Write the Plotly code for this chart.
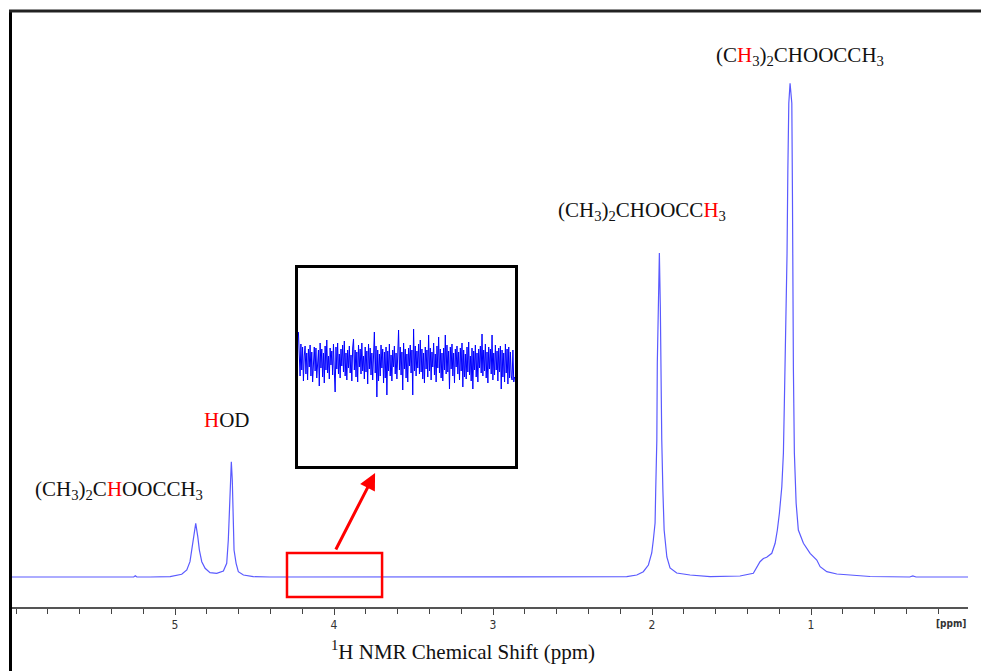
import plotly.graph_objects as go

# ---------------- data ----------------
# 1H NMR spectrum, chemical shift (ppm) and intensity (a.u.)
ppm_base_left = [6.04, 5.40, 5.26, 5.25, 5.24, 5.157]
int_base_left = [0, 0, 0, 1.2, 0, 0]

ppm_ch_hod = [5.031, 4.958, 4.926, 4.906, 4.895, 4.885, 4.870, 4.857, 4.847, 4.832,
              4.811, 4.780, 4.738, 4.696, 4.675, 4.665, 4.658, 4.652, 4.646, 4.640,
              4.635, 4.629, 4.616, 4.602, 4.570, 4.508, 4.403]
int_ch_hod = [0.3, 2.7, 7, 15.3, 27, 40.3, 53.7, 40.3, 27, 15.3,
              8.7, 4.3, 3.7, 6, 13.7, 37, 70.3, 103.7, 115.3, 97,
              54, 27, 13.7, 5.3, 2, 0.3, 0]

ppm_base_mid = [3.80, 3.20, 2.60]
int_base_mid = [0, 0, 0]

ppm_acetyl = [2.264, 2.159, 2.096, 2.055, 2.023, 2.002, 1.992, 1.981, 1.977, 1.970,
              1.967, 1.960, 1.954, 1.948, 1.945, 1.939, 1.932, 1.924, 1.907, 1.887,
              1.845, 1.761, 1.635]
int_acetyl = [0, 0.3, 2, 5.3, 12, 24, 37, 54, 87, 137,
              214, 270, 324, 270, 220, 137, 87, 47, 20, 9,
              4, 2, 0.3]

ppm_methyl = [1.447, 1.363, 1.321, 1.300, 1.279, 1.247, 1.226, 1.212, 1.199, 1.184,
              1.174, 1.168, 1.161, 1.157, 1.151, 1.146, 1.140, 1.132, 1.121, 1.117,
              1.115, 1.111, 1.105, 1.094, 1.080, 1.048, 1.006, 0.964, 0.943, 0.901,
              0.838, 0.755, 0.629]
int_methyl = [1, 3.7, 15.3, 18.5, 19.7, 23.7, 33.7, 47, 64, 90.3,
              123.7, 173.7, 223.7, 273.7, 323.7, 407, 473.7, 493.7, 473.7, 380,
              307, 207, 124, 74, 47, 33.7, 23.7, 17, 10.3, 5.3,
              3, 2, 0.5]

ppm_base_right = [0.38, 0.36, 0.34, 0.013]
int_base_right = [0, 1, 0, 0]

# zoomed baseline noise (inset), a.u.
noise = [30, 12, -14, 18, -8, 15, -19, 6, 16, -12, 9, -18, 13, -5, 17, -14, 10, -20, 8, 15,
         -9, 14, -16, 7, 12, -24, 19, -6, 13, -15, 9, -21, 16, -8, 22, -11, 6, -17, 14, -3,
         11, -13, 18, -9, -30, 15, -7, 19, -12, 8, -16, 13, -4, 17, -10, 21, -14, 9, -18, 12,
         -6, 16, -11, 7, -19, 14, 23, -8, 12, -15, 10, -20, 17, -5, 13, -12, 19, -9, 6, -17,
         15, -10, 11, -22, 18, -7, 14, -13, 9, -18, 20, 30, -11, 16, -35, 12, -19, 8, -14, 17,
         -6, 13, -21, 10, -16, 15, -33, 11, -9, 18, -14, 7, -19, 12, -5, 16, -12, 9, -17, 14,
         32, -8, 15, -13, 10, -28, 19, -7, 13, -16, 8, -20, 14, -4, 17, -11, 12, -33, 33, -9,
         16, -14, 11, -6, 18, -12, 22, -10, 13, -17, 9, -21, 15, -7, 12, -15, 27, -9, 14, -18,
         10, -5, 19, -13, 8, -20, 16, -6, 25, -11, 13, -16, 9, -19, 14, -8, 27, -12, 17, -10,
         11, -27, 15, -7, 18, -14, 9, -21, 13, -5, 16, -12, 10, -18, 14, -9, 19, -25, 12, -15,
         8, -17, 15, -10, 20, -13, 6, -19, 14, -27, 11, -8, 17, -15, 9, -20, 13, -6, 16, -11,
         28, -14, 12, -9, 18, -16, 10, -21, 15, -7, 13, -12, 27, -18, 9, -13, 17, -8, 11, -19,
         14, -10, 16, -27, 12, -15, 9, -20, 18, -11, 13, -22, 15, -16, 10, -14, -18, 12, -20, -15]

tick_vals = [5, 4, 3, 2, 1]
tick_text = ["5", "4", "3", "2", "1"]

# ---------------- figure ----------------
ppm = ppm_base_left + ppm_ch_hod + ppm_base_mid + ppm_acetyl + ppm_methyl + ppm_base_right
inten = int_base_left + int_ch_hod + int_base_mid + int_acetyl + int_methyl + int_base_right

W, H = 981, 671
L, R, T, B = 10, 13, 11, 64

fig = go.Figure()
fig.add_trace(go.Scatter(x=ppm, y=inten, mode="lines",
                         line=dict(color="#5a5aff", width=1.2),
                         hoverinfo="skip", showlegend=False))
fig.add_trace(go.Scatter(x=list(range(len(noise))), y=noise, mode="lines",
                         line=dict(color="#0000ff", width=1),
                         xaxis="x2", yaxis="y2", hoverinfo="skip", showlegend=False))

serif = "Liberation Serif, Times New Roman, serif"
red = '<span style="color:#ff0000">H</span>'


def px(xp):
    return (xp - L) / (W - L - R)


def py(yp):
    return (H - B - yp) / (H - T - B)


def label(text, xp, yp, size=21, family=serif, color="#111", xanchor="center"):
    return dict(text=text, x=px(xp), y=py(yp), xref="paper", yref="paper",
                xanchor=xanchor, yanchor="middle", showarrow=False,
                font=dict(family=family, size=size, color=color))


annotations = [
    label("(CH<sub>3</sub>)<sub>2</sub>C" + red + "OOCCH<sub>3</sub>", 119, 490),
    label(red + "OD", 227, 420),
    label("(CH<sub>3</sub>)<sub>2</sub>CHOOCC" + red + "<sub>3</sub>", 642, 211),
    label("(C" + red + "<sub>3</sub>)<sub>2</sub>CHOOCCH<sub>3</sub>", 800, 56),
    label("<sup>1</sup>H NMR Chemical Shift (ppm)", 463, 650),
    label("<b>[ppm]</b>", 968, 623, size=10,
          family="DejaVu Sans Condensed, DejaVu Sans", color="#333", xanchor="right"),
    # red arrow from the marked region to the inset
    dict(text="", x=3.742, y=104, xref="x", yref="y", ax=-40, ay=78,
         showarrow=True, arrowhead=2, arrowsize=1.1, arrowwidth=3, arrowcolor="#ff0000"),
]

shapes = [
    # red box marking the zoomed region
    dict(type="rect", xref="x", yref="y", x0=4.296, x1=3.698, y0=-20, y1=24,
         line=dict(color="#ff0000", width=2.5)),
    # image frame (left and top)
    dict(type="line", xref="paper", yref="paper", x0=px(10.5), x1=px(10.5),
         y0=py(11), y1=py(671), line=dict(color="#000", width=3)),
    dict(type="line", xref="paper", yref="paper", x0=px(9), x1=px(981),
         y0=py(11), y1=py(11), line=dict(color="#222", width=3)),
]

fig.update_layout(
    width=W, height=H,
    margin=dict(l=L, r=R, t=T, b=B),
    paper_bgcolor="white", plot_bgcolor="white",
    xaxis=dict(range=[6.038, 0.013], tickvals=tick_vals, ticktext=tick_text,
               ticks="outside", ticklen=6, tickwidth=1, tickcolor="#444",
               showline=True, linecolor="#555", linewidth=1.5,
               showgrid=False, zeroline=False,
               minor=dict(dtick=0.2, tick0=0, ticks="outside", ticklen=5,
                          tickwidth=1, tickcolor="#444", showgrid=False),
               tickfont=dict(family="DejaVu Sans Condensed, DejaVu Sans", size=12,
                             color="#333")),
    yaxis=dict(range=[-30, 566], visible=False, showgrid=False, zeroline=False),
    xaxis2=dict(domain=[px(298), px(515)], anchor="y2", range=[-0.5, len(noise) - 0.5],
                showticklabels=False, ticks="", showgrid=False, zeroline=False,
                showline=True, mirror=True, linecolor="#000", linewidth=3),
    yaxis2=dict(domain=[py(466), py(268)], anchor="x2", range=[-104, 94],
                showticklabels=False, ticks="", showgrid=False, zeroline=False,
                showline=True, mirror=True, linecolor="#000", linewidth=3),
    annotations=annotations,
    shapes=shapes,
)

fig.write_html("out.html",
               config={"displayModeBar": False},
               post_script="document.body.style.margin='0';"
                           "document.body.style.overflow='hidden';")
